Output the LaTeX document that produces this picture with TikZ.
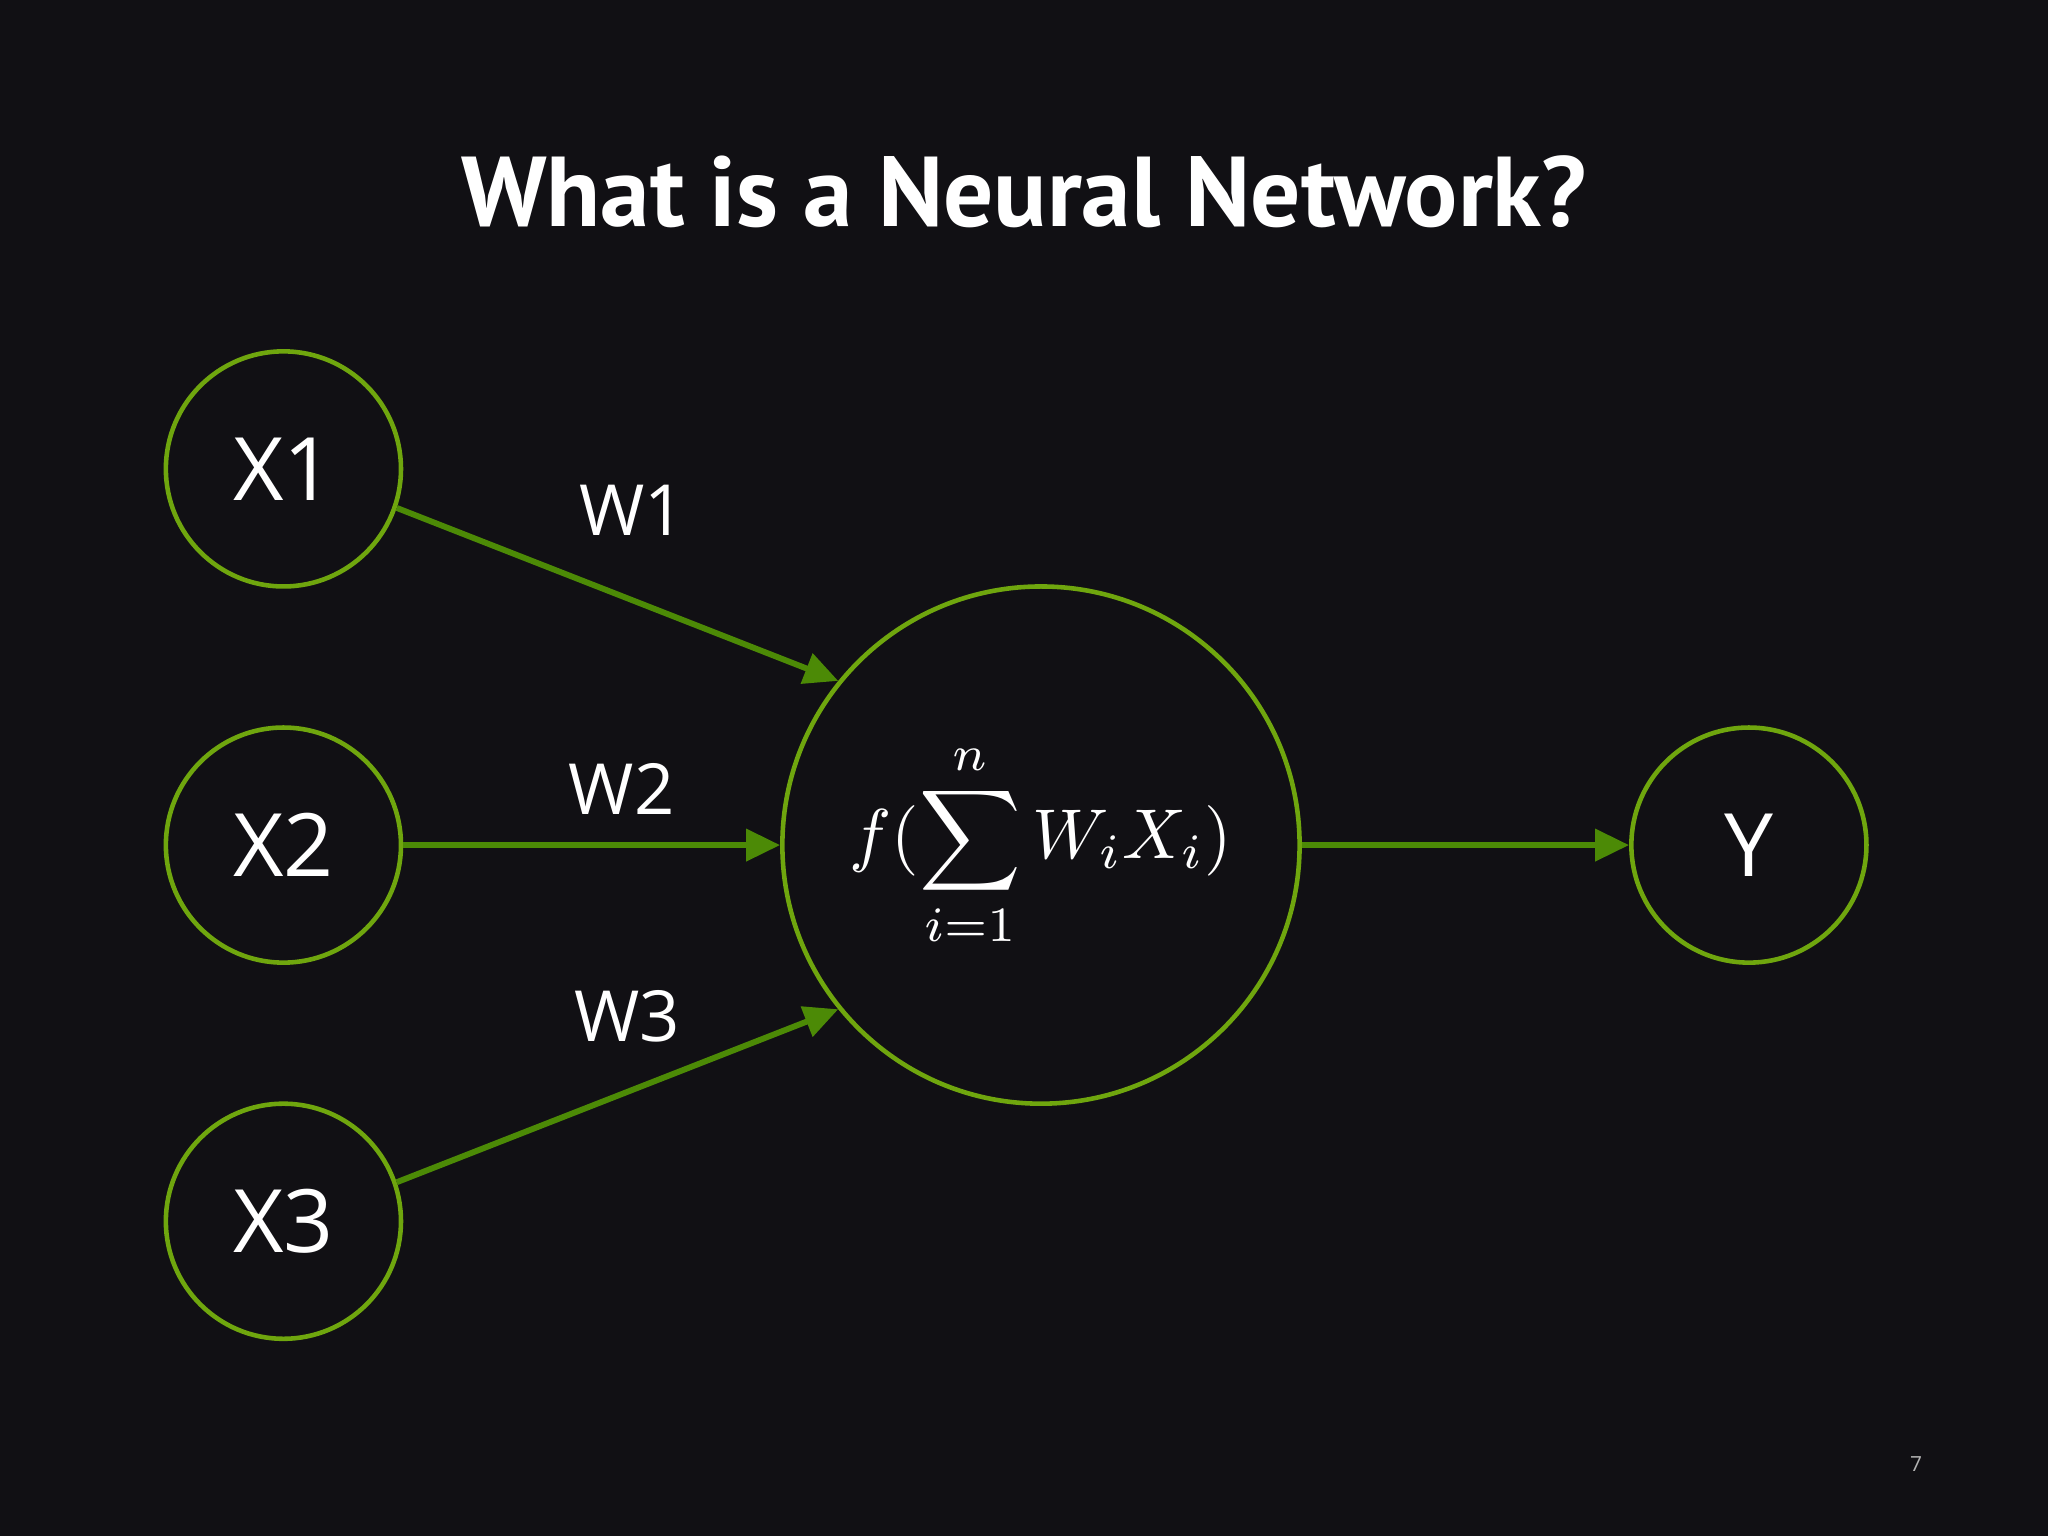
\documentclass[tikz,border=0pt]{standalone}
\usepackage{fontspec}
\usepackage{graphicx}
\setmainfont{Open Sans}
\newfontfamily\titlef{PT Sans}
\usetikzlibrary{arrows.meta}
\definecolor{bg}{HTML}{111014}
\definecolor{ring}{HTML}{6FA60E}
\definecolor{arr}{HTML}{4C8A06}
\begin{document}
\begin{tikzpicture}[x=1pt,y=-1pt,
  neuron/.style={circle,draw=ring,line width=3.5pt,text=white,inner sep=0pt},
  inp/.style={neuron,minimum size=180pt,font=\fontsize{67}{67}\selectfont},
  conn/.style={draw=arr,line width=4.5pt,-{Triangle[length=26pt,width=24pt]}},
  wl/.style={text=white,font=\fontsize{54}{54}\selectfont}]
\fill[bg] (0,0) rectangle (1568,1176);
\useasboundingbox (0,0) rectangle (1568,1176);
\node[text=white,font=\titlef\bfseries\fontsize{76}{76}\selectfont] (title) at (784,147) {What is a Neural Network?};
\node[inp] (x1) at (217,359) {X1};
\node[inp] (x2) at (217,647) {X2};
\node[inp] (x3) at (217,935) {X3};
\node[inp] (y) at (1339,647) {Y};
\node[neuron,minimum size=396pt] (n) at (797,647) {\scalebox{5.4}{$\displaystyle f(\sum_{i=1}^{n} W_iX_i)$}};
\draw[conn] (x1.-19) -- (n.141);
\draw[conn] (x2) -- (n);
\draw[conn] (x3.19) -- (n.219);
\draw[conn] (n) -- (y);
\node[wl] (w1) at (484,391) {W1};
\node[wl] (w2) at (476,604) {W2};
\node[wl] (w3) at (480,778) {W3};
\node[text=gray!60,font=\fontsize{16}{16}\selectfont] (pg) at (1467,1121) {7};
\end{tikzpicture}
\end{document}
